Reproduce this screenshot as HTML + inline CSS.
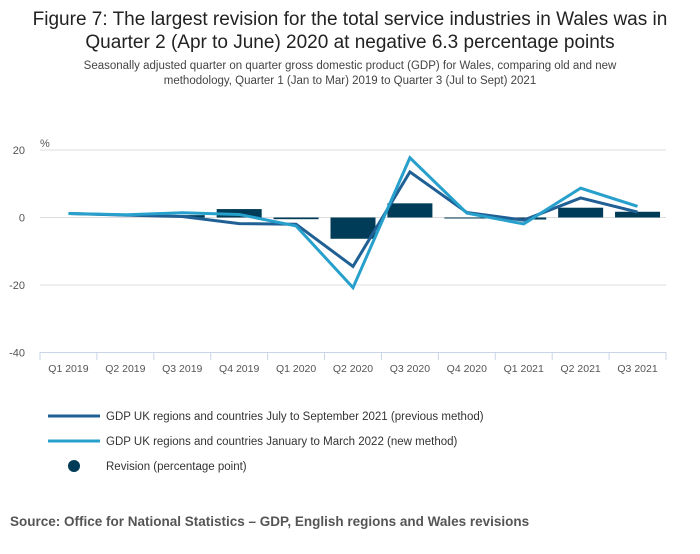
<!DOCTYPE html>
<html><head><meta charset="utf-8"><style>
body{margin:0;width:700px;height:549px;background:#fff;font-family:"Liberation Sans",sans-serif;overflow:hidden}
</style></head><body>
<svg width="700" height="549">
<text x="350" y="25" text-anchor="middle" font-size="19" fill="#222">Figure 7: The largest revision for the total service industries in Wales was in</text>
<text x="350" y="48" text-anchor="middle" font-size="19" fill="#222">Quarter 2 (Apr to June) 2020 at negative 6.3 percentage points</text>
<text x="350" y="69" text-anchor="middle" font-size="11.5" fill="#444">Seasonally adjusted quarter on quarter gross domestic product (GDP) for Wales, comparing old and new</text>
<text x="350" y="84" text-anchor="middle" font-size="11.5" fill="#444">methodology, Quarter 1 (Jan to Mar) 2019 to Quarter 3 (Jul to Sept) 2021</text>
<text x="40" y="147" font-size="11" fill="#555">%</text>
<g id="grid"></g><g id="bars"></g><g id="lines"></g><g id="xaxis"></g>
<g>
<line x1="48" y1="416" x2="100" y2="416" stroke="#206095" stroke-width="3"/>
<text x="106" y="420" font-size="11.5" fill="#333">GDP UK regions and countries July to September 2021 (previous method)</text>
<line x1="48" y1="441" x2="100" y2="441" stroke="#27a0cc" stroke-width="3"/>
<text x="106" y="445" font-size="11.5" fill="#333">GDP UK regions and countries January to March 2022 (new method)</text>
<circle cx="74" cy="466" r="6" fill="#003c57"/>
<text x="106" y="470" font-size="11.5" fill="#333">Revision (percentage point)</text>
</g>
<text x="10" y="526" font-size="13.5" font-weight="bold" fill="#555">Source: Office for National Statistics – GDP, English regions and Wales revisions</text>
</svg>
<script>
const categories=["Q1 2019","Q2 2019","Q3 2019","Q4 2019","Q1 2020","Q2 2020","Q3 2020","Q4 2020","Q1 2021","Q2 2021","Q3 2021"];
const previousMethod=[1.2,0.7,0.3,-1.8,-2.0,-14.5,13.5,1.5,-0.8,5.8,1.6];
const newMethod=[1.2,0.8,1.4,0.9,-2.5,-20.8,17.7,1.3,-1.9,8.7,3.3];
const revision=[0,0,0.7,2.5,-0.5,-6.3,4.2,-0.2,-0.6,2.9,1.7];
const yTicks=[20,0,-20,-40];
const NS="http://www.w3.org/2000/svg";
const x0=40,x1=666,bw=(x1-x0)/categories.length;
const xc=i=>x0+bw*(i+0.5);
const y=v=>217.5-v*3.375;
function mk(t,a,p){const e=document.createElementNS(NS,t);for(const k in a)e.setAttribute(k,a[k]);p.appendChild(e);return e;}
const grid=document.getElementById('grid');
yTicks.forEach(v=>{
 if(v>-40){const l=mk('line',{x1:x0,x2:x1,y1:y(v),y2:y(v),stroke:'#dcdcdc','stroke-width':1},grid);
 
 }
 const t=mk('text',{x:25,y:y(v)+4,'text-anchor':'end','font-size':11,fill:'#555'},grid);t.textContent=v;
 
 
});
const bars=document.getElementById('bars');
revision.forEach((v,i)=>{
 const h=v===0?0:Math.max(Math.abs(y(v)-y(0)),1);
 const r=mk('rect',{x:xc(i)-22.5,width:45,y:Math.min(y(v),y(0)),height:h,fill:'#003c57'},bars);
 
 
});
const lines=document.getElementById('lines');
[[previousMethod,'#206095','previous-method-line'],[newMethod,'#27a0cc','new-method-line']].forEach(([d,c,n])=>{
 const p=mk('polyline',{points:d.map((v,i)=>xc(i)+','+y(v)).join(' '),fill:'none',stroke:c,'stroke-width':3,'stroke-linejoin':'miter'},lines);
 
 
});
const xa=document.getElementById('xaxis');
const ax=mk('line',{x1:x0,x2:x1,y1:352.5,y2:352.5,stroke:'#c8d4e8','stroke-width':1},xa);


for(let i=0;i<=categories.length;i++){const tk=mk('line',{x1:x0+bw*i,x2:x0+bw*i,y1:352,y2:360,stroke:'#c8d4e8'},xa);
 
 }
categories.forEach((c,i)=>{const t=mk('text',{x:xc(i),y:372,'text-anchor':'middle','font-size':10.5,fill:'#555'},xa);t.textContent=c;
 
 });
</script>
</body></html>
